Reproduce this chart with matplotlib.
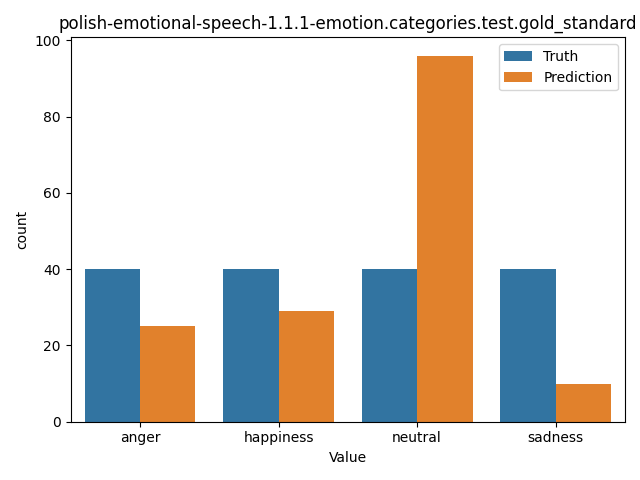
import matplotlib
matplotlib.use("Agg")
import matplotlib.pyplot as plt
import pandas as pd
import seaborn as sns

categories = ["anger", "happiness", "neutral", "sadness"]
truth_counts = [40, 40, 40, 40]
prediction_counts = [25, 29, 96, 10]

df = pd.DataFrame({
    "Value": categories * 2,
    "count": truth_counts + prediction_counts,
    "Source": ["Truth"] * len(categories) + ["Prediction"] * len(categories),
})

fig, ax = plt.subplots(figsize=(6.4, 4.8), dpi=100)
sns.barplot(data=df, x="Value", y="count", hue="Source", ax=ax)
ax.legend(title=None)
ax.set_title("polish-emotional-speech-1.1.1-emotion.categories.test.gold_standard")
plt.tight_layout()
plt.savefig("out.png", dpi=100)
